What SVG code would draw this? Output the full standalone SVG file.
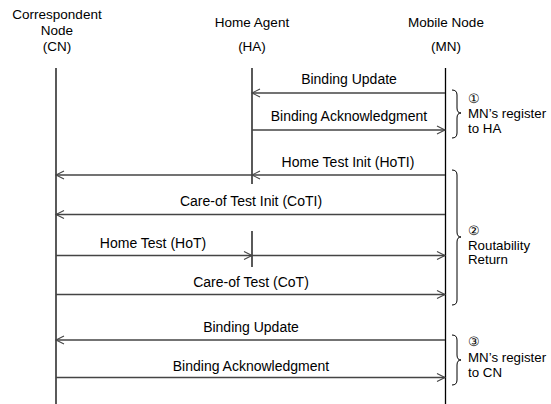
<svg xmlns="http://www.w3.org/2000/svg" width="551" height="404" viewBox="0 0 551 404">
<defs>
<marker id="arr" viewBox="-10 -6 12 12" refX="0" refY="0" markerWidth="12" markerHeight="12" orient="auto" markerUnits="userSpaceOnUse">
<path d="M-8,-4 L0,0 L-8,4" fill="none" stroke="#444" stroke-width="1.1"/>
</marker>
<style>
text{font-family:"Liberation Sans",Arial,sans-serif;fill:#000}
.h{font-size:13.5px;text-anchor:middle}
.m{font-size:14px;text-anchor:middle}
.n{font-size:13.3px}
.life{stroke:#000;stroke-width:1.3;fill:none}
.msg{stroke:#444;stroke-width:1.3;fill:none;marker-end:url(#arr)}
.br{stroke:#000;stroke-width:1;fill:none}
</style>
</defs>
<rect width="551" height="404" fill="#fff"/>
<g id="node-cn">
<text class="h" x="57" y="19">Correspondent</text>
<text class="h" x="57" y="35">Node</text>
<text class="h" x="57" y="51">(CN)</text>
<line class="life" x1="56" y1="68" x2="56" y2="404"/>
</g>
<g id="node-ha">
<text class="h" x="252" y="27">Home Agent</text>
<text class="h" x="252" y="51">(HA)</text>
<line class="life" x1="252" y1="68" x2="252" y2="184"/>
<line class="life" x1="252" y1="231" x2="252" y2="267"/>
</g>
<g id="node-mn">
<text class="h" x="446" y="27">Mobile Node</text>
<text class="h" x="446" y="51">(MN)</text>
<line class="life" x1="445.5" y1="68" x2="445.5" y2="404"/>
</g>
<g id="connectors">
<line class="msg" x1="445" y1="93" x2="252" y2="93"/>
<text class="m" x="349" y="84">Binding Update</text>
<line class="msg" x1="252" y1="130" x2="445" y2="130"/>
<text class="m" x="349" y="121">Binding Acknowledgment</text>
<line class="msg" x1="445" y1="175" x2="252" y2="175"/>
<line class="msg" x1="252" y1="175" x2="56" y2="175"/>
<text class="m" x="348" y="167">Home Test Init (HoTI)</text>
<line class="msg" x1="445" y1="214.5" x2="56" y2="214.5"/>
<text class="m" x="251" y="206">Care-of Test Init (CoTI)</text>
<line class="msg" x1="56" y1="255.5" x2="252" y2="255.5"/>
<line class="msg" x1="252" y1="255.5" x2="445" y2="255.5"/>
<text class="m" x="153" y="248">Home Test (HoT)</text>
<line class="msg" x1="56" y1="294.5" x2="445" y2="294.5"/>
<text class="m" x="251" y="287">Care-of Test (CoT)</text>
<line class="msg" x1="445" y1="340" x2="56" y2="340"/>
<text class="m" x="251" y="332">Binding Update</text>
<line class="msg" x1="56" y1="377.5" x2="445" y2="377.5"/>
<text class="m" x="251" y="371">Binding Acknowledgment</text>
</g>
<g id="note-1">
<path class="br" d="M452,90 Q457,90 457,95 L457,108 Q457,113 461,113 Q457,113 457,118 L457,133 Q457,138 452,138"/>
<text class="n" x="468" y="103">①</text>
<text class="n" x="468" y="118">MN’s register</text>
<text class="n" x="468" y="133">to HA</text>
</g>
<g id="note-2">
<path class="br" d="M452,170 Q457,170 457,175 L457,232 Q457,237 461,237 Q457,237 457,242 L457,300 Q457,305 452,305"/>
<text class="n" x="468" y="235">②</text>
<text class="n" x="468" y="250">Routability</text>
<text class="n" x="468" y="264">Return</text>
</g>
<g id="note-3">
<path class="br" d="M452,335 Q457,335 457,340 L457,355 Q457,360 461,360 Q457,360 457,365 L457,380 Q457,385 452,385"/>
<text class="n" x="468" y="346">③</text>
<text class="n" x="468" y="362">MN’s register</text>
<text class="n" x="468" y="377">to CN</text>
</g>
</svg>
